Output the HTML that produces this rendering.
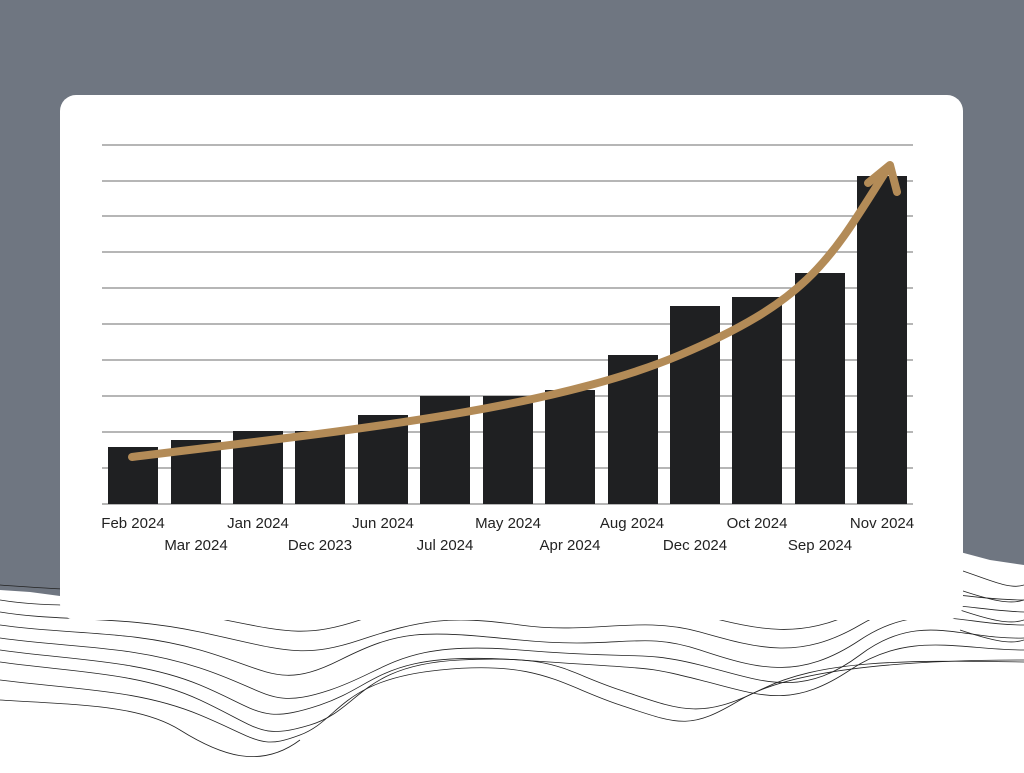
<!DOCTYPE html>
<html><head><style>
body{margin:0;width:1024px;height:768px;overflow:hidden;background:#fff;font-family:"Liberation Sans",sans-serif}
</style></head><body>
<svg width="1024" height="768" xmlns="http://www.w3.org/2000/svg">
<rect x="0" y="0" width="1024" height="768" fill="#fff"/>
<path d="M0 0H1024V565L990 560 960 552 930 560 900 570 860 575 800 585 700 590 500 590 300 588 100 590 60 596 30 592 0 590Z" fill="#6f7681"/>
<g fill="none" stroke="#222" stroke-width="0.8">
<path d="M0 600 C60 610 120 600 200 615 S300 640 360 620 S450 600 520 610 S640 600 700 615 S800 640 860 610 S960 600 1024 600"/>
<path d="M0 612 C60 622 120 615 200 632 S300 660 360 640 S450 615 520 625 S640 615 700 632 S800 660 860 625 S960 610 1024 612"/>
<path d="M0 625 C70 635 130 630 200 650 S280 690 340 660 S420 630 520 640 S640 630 700 650 S800 680 860 640 S960 625 1024 625"/>
<path d="M0 638 C70 648 130 645 200 668 S270 710 330 690 S400 640 520 650 S640 650 700 665 S800 700 860 655 S960 640 1024 638"/>
<path d="M0 650 C70 660 140 660 200 685 S260 725 320 705 S380 650 520 660 S640 665 700 680 S790 710 850 670 S960 650 1024 650"/>
<path d="M0 662 C70 672 140 672 200 700 S260 740 310 725 S360 665 460 660 S560 670 620 690 S700 720 760 690 S900 660 1024 662"/>
<path d="M0 680 C80 690 140 690 200 715 S260 750 300 735 S340 680 440 670 S560 685 620 705 S690 730 740 700 S900 660 1024 660"/>
<path d="M0 700 C80 705 140 705 180 730 S260 770 300 740"/>
<path d="M0 585 C60 590 120 590 200 600"/>
<path d="M960 570 C990 580 1010 590 1024 585"/>
<path d="M960 590 C990 600 1010 605 1024 600"/>
<path d="M960 610 C990 620 1010 625 1024 620"/>
<path d="M960 630 C990 640 1010 645 1024 640"/>
</g>
<rect x="60" y="95" width="903" height="525" rx="16" fill="#fff"/>
<g stroke="#8a8a8a" stroke-width="1.2">
<line x1="102" y1="145" x2="913" y2="145"/><line x1="102" y1="181" x2="913" y2="181"/>
<line x1="102" y1="216" x2="913" y2="216"/><line x1="102" y1="252" x2="913" y2="252"/>
<line x1="102" y1="288" x2="913" y2="288"/><line x1="102" y1="324" x2="913" y2="324"/>
<line x1="102" y1="360" x2="913" y2="360"/><line x1="102" y1="396" x2="913" y2="396"/>
<line x1="102" y1="432" x2="913" y2="432"/><line x1="102" y1="468" x2="913" y2="468"/>
<line x1="102" y1="504" x2="913" y2="504"/>
</g>
<g fill="#1f2022">
<rect x="108" y="447" width="50" height="57"/><rect x="171" y="440" width="50" height="64"/>
<rect x="233" y="431" width="50" height="73"/><rect x="295" y="431" width="50" height="73"/>
<rect x="358" y="415" width="50" height="89"/><rect x="420" y="396" width="50" height="108"/>
<rect x="483" y="396" width="50" height="108"/><rect x="545" y="390" width="50" height="114"/>
<rect x="608" y="355" width="50" height="149"/><rect x="670" y="306" width="50" height="198"/>
<rect x="732" y="297" width="50" height="207"/><rect x="795" y="273" width="50" height="231"/>
<rect x="857" y="176" width="50" height="328"/>
</g>
<g fill="none" stroke="#b38b57" stroke-width="8" stroke-linecap="round" stroke-linejoin="round">
<path d="M132 457 C350 430 550 410 680 355 S830 260 888 168"/>
<path d="M868 183 L890 165 L897 192"/>
</g>
<g font-size="15" fill="#222" text-anchor="middle">
<text x="133" y="528">Feb 2024</text><text x="258" y="528">Jan 2024</text><text x="383" y="528">Jun 2024</text>
<text x="508" y="528">May 2024</text><text x="632" y="528">Aug 2024</text><text x="757" y="528">Oct 2024</text>
<text x="882" y="528">Nov 2024</text>
<text x="196" y="550">Mar 2024</text><text x="320" y="550">Dec 2023</text><text x="445" y="550">Jul 2024</text>
<text x="570" y="550">Apr 2024</text><text x="695" y="550">Dec 2024</text><text x="820" y="550">Sep 2024</text>
</g>
</svg>
</body></html>
